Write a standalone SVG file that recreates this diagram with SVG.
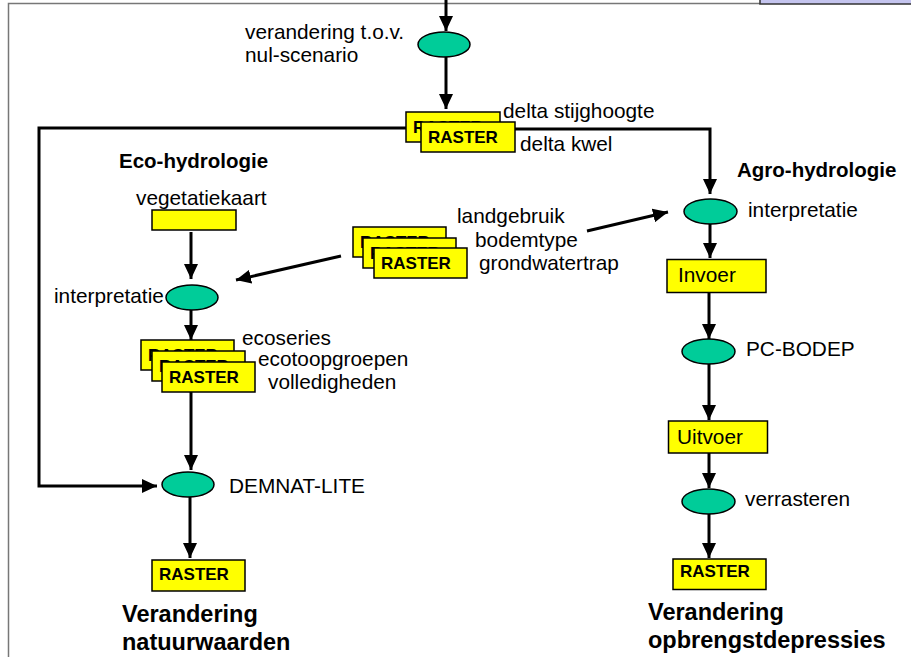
<svg xmlns="http://www.w3.org/2000/svg" width="911" height="657" viewBox="0 0 911 657">
<defs>
<marker id="ah" markerUnits="userSpaceOnUse" markerWidth="16" markerHeight="14" refX="15" refY="7" orient="auto">
<path d="M0,0 L15,7 L0,14 Z" fill="#000"/>
</marker>
</defs>
<style>
.t{font-family:"Liberation Sans",Arial,sans-serif;font-size:20.8px;fill:#000}
.b{font-family:"Liberation Sans",Arial,sans-serif;font-weight:bold;fill:#000}
.r{font-family:"Liberation Sans",Arial,sans-serif;font-weight:bold;font-size:17px;fill:#000}
.box{fill:#ffff00;stroke:#000;stroke-width:1.5}
.ell{fill:#00cc99;stroke:#000;stroke-width:1.5}
.c{fill:none;stroke:#000;stroke-width:3}
.a{fill:none;stroke:#000;stroke-width:3;marker-end:url(#ah)}
</style>
<rect width="911" height="657" fill="#fff"/>
<g id="frame">
<path d="M8.5,657 L8.5,3.5 L760,3.5" fill="none" stroke="#777" stroke-width="1.5"/>
<rect x="760" y="-3" width="153" height="7" fill="#c4c4ee" stroke="#333" stroke-width="1.5"/>
</g>
<g id="connectors">
<line class="a" x1="446" y1="0" x2="446" y2="31"/>
<line class="a" x1="446" y1="57" x2="446" y2="109"/>
<polyline class="a" points="406,128 39,128 39,486 157,486"/>
<polyline class="a" points="515,129 710,129 710,194"/>
<line class="a" x1="191" y1="232" x2="191" y2="279"/>
<line class="a" x1="341" y1="256" x2="236" y2="280"/>
<line class="a" x1="587" y1="231" x2="668" y2="212"/>
<line class="a" x1="191" y1="310" x2="191" y2="340"/>
<line class="a" x1="191" y1="391" x2="191" y2="470"/>
<line class="a" x1="190" y1="497" x2="190" y2="558"/>
<line class="a" x1="710" y1="224" x2="710" y2="258"/>
<line class="a" x1="709" y1="292" x2="709" y2="339"/>
<line class="a" x1="709" y1="364" x2="709" y2="420"/>
<line class="a" x1="709" y1="453" x2="709" y2="488"/>
<line class="a" x1="709" y1="514" x2="709" y2="558"/>
</g>
<g id="verandering">
<ellipse class="ell" cx="444" cy="44.5" rx="26" ry="12.5"/>
<text class="t" x="245" y="39">verandering t.o.v.</text>
<text class="t" x="245" y="62">nul-scenario</text>
</g>
<g id="raster-delta">
<rect class="box" x="406" y="112" width="94" height="30"/>
<text class="r" x="413" y="133">RASTER</text>
<rect class="box" x="421" y="122" width="94" height="30"/>
<text class="r" x="428" y="143">RASTER</text>
<text class="t" x="503" y="118">delta stijghoogte</text>
<text class="t" x="520" y="151">delta kwel</text>
</g>
<g id="eco-title"><text class="b" x="119" y="168" font-size="20.5">Eco-hydrologie</text></g>
<g id="agro-title"><text class="b" x="737" y="177" font-size="20.5">Agro-hydrologie</text></g>
<g id="vegetatiekaart">
<rect class="box" x="152" y="210" width="84" height="20"/>
<text class="t" x="136" y="205">vegetatiekaart</text>
</g>
<g id="raster-land">
<rect class="box" x="353" y="227" width="93" height="30"/>
<text class="r" x="360" y="248">RASTER</text>
<rect class="box" x="363" y="238" width="93" height="30"/>
<text class="r" x="370" y="259">RASTER</text>
<rect class="box" x="374" y="248" width="93" height="30"/>
<text class="r" x="381" y="269">RASTER</text>
<text class="t" x="457" y="223">landgebruik</text>
<text class="t" x="475" y="247">bodemtype</text>
<text class="t" x="479" y="270">grondwatertrap</text>
</g>
<g id="interpretatie-eco">
<ellipse class="ell" cx="192" cy="297.5" rx="26" ry="12.5"/>
<text class="t" x="54" y="303">interpretatie</text>
</g>
<g id="raster-eco">
<rect class="box" x="141" y="340" width="93" height="30"/>
<text class="r" x="148" y="361">RASTER</text>
<rect class="box" x="152" y="351" width="93" height="30"/>
<text class="r" x="159" y="372">RASTER</text>
<rect class="box" x="162" y="362" width="93" height="30"/>
<text class="r" x="169" y="383">RASTER</text>
<text class="t" x="242" y="345">ecoseries</text>
<text class="t" x="258" y="366">ecotoopgroepen</text>
<text class="t" x="268" y="389">volledigheden</text>
</g>
<g id="demnat">
<ellipse class="ell" cx="188" cy="484.5" rx="26" ry="12.5"/>
<text class="t" x="229" y="493">DEMNAT-LITE</text>
</g>
<g id="raster-natuur">
<rect class="box" x="152" y="560" width="93" height="31"/>
<text class="r" x="159" y="580">RASTER</text>
<text class="b" x="122" y="622" font-size="23.5">Verandering</text>
<text class="b" x="122" y="650" font-size="23.5">natuurwaarden</text>
</g>
<g id="interpretatie-agro">
<ellipse class="ell" cx="710.5" cy="211.5" rx="26.5" ry="12.5"/>
<text class="t" x="748" y="217">interpretatie</text>
</g>
<g id="invoer">
<rect class="box" x="667" y="259.5" width="99" height="33"/>
<text class="t" x="678" y="282">Invoer</text>
</g>
<g id="pcbodep">
<ellipse class="ell" cx="708.5" cy="351.5" rx="26.5" ry="12.5"/>
<text class="t" x="746" y="356">PC-BODEP</text>
</g>
<g id="uitvoer">
<rect class="box" x="668.5" y="421" width="99" height="32"/>
<text class="t" x="677" y="444">Uitvoer</text>
</g>
<g id="verrasteren">
<ellipse class="ell" cx="708.5" cy="501.5" rx="26.5" ry="12.5"/>
<text class="t" x="745" y="506">verrasteren</text>
</g>
<g id="raster-opbrengst">
<rect class="box" x="673" y="559" width="93" height="30.5"/>
<text class="r" x="680" y="577">RASTER</text>
<text class="b" x="648" y="620" font-size="23.5">Verandering</text>
<text class="b" x="648" y="648" font-size="23.5">opbrengstdepressies</text>
</g>
</svg>
